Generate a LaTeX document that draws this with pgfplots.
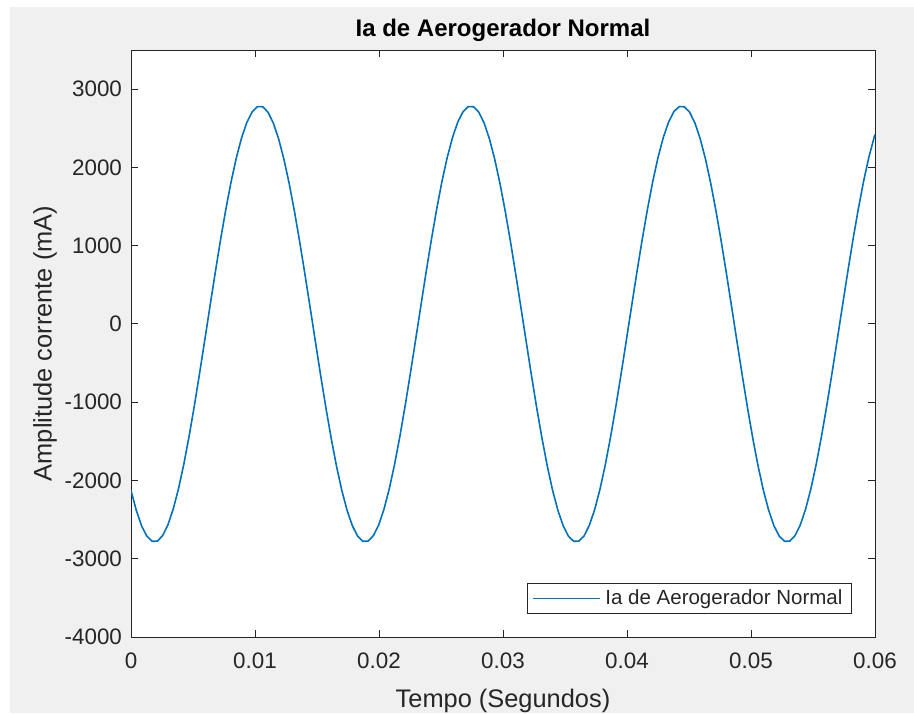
\documentclass[border=0pt]{standalone}
\usepackage{fontspec}
\setmainfont{Liberation Sans}
\usepackage{pgfplots}
\pgfplotsset{compat=1.18}
\usepackage{pgfplotstable}
\definecolor{mblue}{HTML}{0072BD}
\definecolor{maxis}{HTML}{262626}
\definecolor{mbg}{HTML}{F0F0F0}

\pgfplotstableread{
t y
0 -2126
0.000425 -2381
0.00085 -2578
0.001275 -2711
0.0017 -2777
0.002125 -2775
0.00255 -2705
0.002975 -2568
0.0034 -2368
0.003825 -2109
0.00425 -1799
0.004675 -1444
0.0051 -1054
0.005525 -637
0.00595 -206
0.006375 231
0.0068 663
0.007225 1078
0.00765 1466
0.008075 1819
0.0085 2126
0.008925 2381
0.00935 2578
0.009775 2711
0.0102 2777
0.010625 2775
0.01105 2705
0.011475 2568
0.0119 2368
0.012325 2109
0.01275 1799
0.013175 1444
0.0136 1054
0.014025 637
0.01445 206
0.014875 -231
0.0153 -663
0.015725 -1078
0.01615 -1466
0.016575 -1819
0.017 -2126
0.017425 -2381
0.01785 -2578
0.018275 -2711
0.0187 -2777
0.019125 -2775
0.01955 -2705
0.019975 -2568
0.0204 -2368
0.020825 -2109
0.02125 -1799
0.021675 -1444
0.0221 -1054
0.022525 -637
0.02295 -206
0.023375 231
0.0238 663
0.024225 1078
0.02465 1466
0.025075 1819
0.0255 2126
0.025925 2381
0.02635 2578
0.026775 2711
0.0272 2777
0.027625 2775
0.02805 2705
0.028475 2568
0.0289 2368
0.029325 2109
0.02975 1799
0.030175 1444
0.0306 1054
0.031025 637
0.03145 206
0.031875 -231
0.0323 -663
0.032725 -1078
0.03315 -1466
0.033575 -1819
0.034 -2126
0.034425 -2381
0.03485 -2578
0.035275 -2711
0.0357 -2777
0.036125 -2775
0.03655 -2705
0.036975 -2568
0.0374 -2368
0.037825 -2109
0.03825 -1799
0.038675 -1444
0.0391 -1054
0.039525 -637
0.03995 -206
0.040375 231
0.0408 663
0.041225 1078
0.04165 1466
0.042075 1819
0.0425 2126
0.042925 2381
0.04335 2578
0.043775 2711
0.0442 2777
0.044625 2775
0.04505 2705
0.045475 2568
0.0459 2368
0.046325 2109
0.04675 1799
0.047175 1444
0.0476 1054
0.048025 637
0.04845 206
0.048875 -231
0.0493 -663
0.049725 -1078
0.05015 -1466
0.050575 -1819
0.051 -2126
0.051425 -2381
0.05185 -2578
0.052275 -2711
0.0527 -2777
0.053125 -2775
0.05355 -2705
0.053975 -2568
0.0544 -2368
0.054825 -2109
0.05525 -1799
0.055675 -1444
0.0561 -1054
0.056525 -637
0.05695 -206
0.057375 231
0.0578 663
0.058225 1078
0.05865 1466
0.059075 1819
0.0595 2126
0.059925 2381
0.06 2420
}\datatable

\begin{document}
\begin{tikzpicture}
\fill[white] (0pt,0pt) rectangle (457pt,356.5pt);
\fill[mbg] (5pt,0pt) rectangle (457pt,353pt);
\useasboundingbox (0pt,0pt) rectangle (457pt,356.5pt);
\begin{axis}[
  at={(65.5pt,38pt)}, anchor=south west,
  scale only axis, width=372pt, height=293.5pt,
  xmin=0, xmax=0.06, ymin=-4000, ymax=3500,
  scaled x ticks=false, scaled y ticks=false,
  axis background/.style={fill=white},
  axis line style={maxis, line width=0.5pt},
  tick align=inside, xtick pos=both, ytick pos=both,
  major tick length=3.3pt,
  tick style={maxis, line width=0.5pt},
  xtick={0,0.01,0.02,0.03,0.04,0.05,0.06},
  xticklabels={0,0.01,0.02,0.03,0.04,0.05,0.06},
  ytick={-4000,-3000,-2000,-1000,0,1000,2000,3000},
  yticklabels={-4000,-3000,-2000,-1000,0,1000,2000,3000},
  tick label style={font=\fontsize{11.2}{13}\selectfont, text=maxis},
  xticklabel style={yshift=-4.5pt},
  yticklabel style={xshift=-1pt},
  every axis title shift=0pt,
  title={Ia de Aerogerador Normal},
  title style={font=\bfseries\fontsize{12}{14}\selectfont, text=black, at={(axis description cs:0.5,1.034)}, anchor=center},
  xlabel={Tempo (Segundos)},
  xlabel style={font=\fontsize{12.7}{15}\selectfont, text=maxis, at={(axis description cs:0.5,-0.109)}, anchor=center},
  ylabel={Amplitude corrente (mA)},
  ylabel style={font=\fontsize{12.7}{15}\selectfont, text=maxis, at={(axis description cs:-0.1156,0.5)}, anchor=center},
  legend style={at={(axis description cs:0.969,0.039)}, anchor=south east,
    draw=maxis, fill=white, line width=0.5pt,
    font=\fontsize{10.25}{12}\selectfont, text=maxis,
    inner xsep=2pt, inner ysep=1pt,
    nodes={inner xsep=2.5pt, inner ysep=2pt}},
  legend image code/.code={\draw[#1] (0pt,0pt) -- (33.5pt,0pt);},
]
\addplot[mblue, line width=0.8pt] table[x=t, y=y] {\datatable};
\addlegendentry{Ia de Aerogerador Normal}
\end{axis}
\end{tikzpicture}
\end{document}
